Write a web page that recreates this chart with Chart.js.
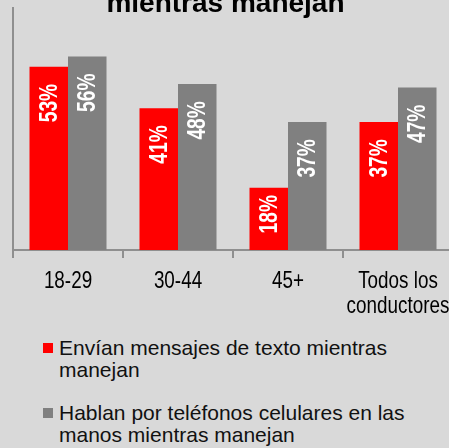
<!DOCTYPE html>
<html>
<head>
<meta charset="utf-8">
<script src="https://cdn.jsdelivr.net/npm/chart.js@4.4.0/dist/chart.umd.min.js"></script>
<style>
  html, body { margin: 0; padding: 0; background: #d9d9d9; overflow: hidden; width: 449px; height: 448px; }
  #wrap { position: relative; width: 449px; height: 448px; overflow: hidden; }
  #myChart { position: absolute; left: 0; top: 0; }
  #title { position: absolute; left: 0; width: 451px; top: -11px; text-align: center;
    font: bold 28px "Liberation Sans", Arial, sans-serif; line-height: 28px; color: #000; white-space: nowrap; }
  #legend { position: absolute; left: 43px; top: 337px; width: 400px; }
  .item { display: flex; align-items: flex-start; margin-bottom: 21px; }
  .box { width: 10px; height: 10px; margin-top: 6px; margin-right: 6px; flex: none; }
  .txt { font: 21px "Liberation Sans", Arial, sans-serif; line-height: 22px; color: #111; max-width: 360px; }
</style>
</head>
<body>
<div id="wrap">
  <canvas id="myChart" width="460" height="330"></canvas>
  <div id="title">mientras manejan</div>
  <div id="legend"></div>
</div>
<script>
const categories = ["18-29", "30-44", "45+", ["Todos los", "conductores"]];
const textingValues = [53, 41, 18, 37];
const callingValues = [56, 48, 37, 47];
const seriesLabels = [
  "Envían mensajes de texto mientras manejan",
  "Hablan por teléfonos celulares en las manos mientras manejan"
];
const seriesColors = ["#ff0000", "#808080"];

const FONT = '"Liberation Sans", Arial, sans-serif';
const axisColor = "#8f8f8f";
const squeeze = 0.77; // the source text is condensed

// white % values inside the bars, rotated
const barLabels = {
  id: "barLabels",
  afterDatasetsDraw(chart) {
    const ctx = chart.ctx;
    ctx.save();
    ctx.fillStyle = "#fff";
    ctx.font = "bold 25px " + FONT;
    ctx.textAlign = "right";
    ctx.textBaseline = "middle";
    chart.data.datasets.forEach((ds, i) => {
      chart.getDatasetMeta(i).data.forEach((bar, j) => {
        const txt = ds.data[j] + "%";
        const len = ctx.measureText(txt).width * squeeze;
        const h = bar.base - bar.y;
        const off = Math.min(17, (h - len) * 0.3);
        ctx.save();
        ctx.translate(bar.x + 1, bar.y + off);
        ctx.rotate(-Math.PI / 2);
        ctx.scale(squeeze, 1);
        ctx.fillText(txt, 0, 0);
        ctx.restore();
      });
    });
    ctx.restore();
  }
};

// condensed category labels under the x axis
const catLabels = {
  id: "catLabels",
  afterDraw(chart) {
    const ctx = chart.ctx;
    const xs = chart.scales.x;
    ctx.save();
    ctx.fillStyle = "#000";
    ctx.font = "24.5px " + FONT;
    ctx.textAlign = "center";
    ctx.textBaseline = "alphabetic";
    chart.data.labels.forEach((lab, i) => {
      const lines = Array.isArray(lab) ? lab : [lab];
      const x = xs.getPixelForValue(i);
      lines.forEach((ln, k) => {
        ctx.save();
        ctx.translate(x, xs.top + 38 + k * 25);
        ctx.scale(squeeze, 1);
        ctx.fillText(ln, 0, 0);
        ctx.restore();
      });
    });
    ctx.restore();
  }
};

const data = {
  labels: categories,
  datasets: [
    { label: seriesLabels[0], data: textingValues, backgroundColor: seriesColors[0], borderWidth: 0 },
    { label: seriesLabels[1], data: callingValues, backgroundColor: seriesColors[1], borderWidth: 0 }
  ]
};

const options = {
  responsive: false,
  animation: false,
  barPercentage: 1,
  categoryPercentage: 0.7,
  layout: { padding: { top: 8, right: 7, left: 0, bottom: 0 } },
  plugins: {
    legend: { display: false },
    tooltip: { enabled: false },
    title: { display: false }
  },
  scales: {
    x: {
      grid: { display: true, drawOnChartArea: false, drawTicks: true, tickLength: 8, color: axisColor, lineWidth: 2 },
      border: { display: true, color: axisColor, width: 2 },
      ticks: { display: false },
      afterFit: (s) => { s.height = 80; }
    },
    y: {
      min: 0,
      max: 70,
      grid: { display: false },
      border: { display: true, color: axisColor, width: 2 },
      ticks: { display: false },
      afterFit: (s) => { s.width = 13; }
    }
  }
};

new Chart(document.getElementById("myChart"), { type: "bar", data, options, plugins: [barLabels, catLabels] });

const legend = document.getElementById("legend");
seriesLabels.forEach((lab, i) => {
  const item = document.createElement("div");
  item.className = "item";
  item.innerHTML = '<span class="box" style="background:' + seriesColors[i] + '"></span><span class="txt">' + lab + '</span>';
  legend.appendChild(item);
});
</script>
</body>
</html>
